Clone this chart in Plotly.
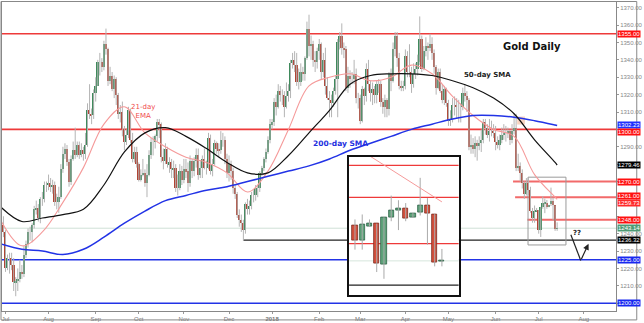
import pandas as pd
import plotly.graph_objects as go

# ---------------- data ----------------
dates = pd.bdate_range("2017-06-29", "2018-07-13")

open_ = [
    1248, 1245,
    1241, 1220, 1226, 1226, 1222, 1212, 1213, 1214, 1218, 1217, 1228, 1234, 1241, 1241, 1245, 1254, 1255, 1249, 1260, 1260, 1268,
    1268, 1269, 1267, 1268, 1258, 1258, 1261, 1277, 1286, 1289, 1281, 1270, 1283, 1288, 1285, 1291, 1285, 1288, 1286, 1291, 1311, 1309, 1308,
    1321, 1325, 1339, 1339, 1336, 1349, 1346, 1328, 1331, 1323, 1329, 1320, 1309, 1310, 1300, 1293, 1297, 1311, 1294, 1283, 1287,
    1280, 1271, 1274, 1275, 1269, 1274, 1285, 1293, 1293, 1296, 1304, 1303, 1284, 1282, 1289, 1280, 1281, 1277, 1278, 1266, 1266, 1276,
    1271, 1277, 1276, 1269, 1282, 1276, 1282, 1285, 1274, 1278, 1283, 1278, 1278, 1295, 1276, 1280, 1292, 1289, 1288, 1294, 1294, 1283,
    1275, 1280, 1276, 1266, 1263, 1251, 1248, 1246, 1242, 1257, 1254, 1256, 1262, 1262, 1266, 1266, 1275, 1278, 1283, 1287, 1294,
    1303, 1304, 1316, 1313, 1322, 1320, 1320, 1313, 1319, 1322, 1338, 1340, 1337, 1327, 1327, 1333, 1332, 1341, 1358, 1348, 1349, 1340, 1339,
    1345, 1349, 1333, 1340, 1325, 1318, 1317, 1315, 1322, 1329, 1350, 1354, 1347, 1346, 1324, 1331, 1329, 1329, 1332, 1318,
    1318, 1305, 1323, 1319, 1335, 1326, 1321, 1323, 1320, 1326, 1326, 1316, 1313, 1317, 1312, 1332, 1328, 1346, 1354, 1341, 1325, 1324,
    1325, 1342, 1333, 1333, 1326, 1332, 1335, 1339, 1352, 1335, 1345, 1348, 1347, 1349, 1344, 1336, 1324, 1333, 1322, 1317, 1323,
    1315, 1305, 1306, 1314, 1314, 1313, 1313, 1313, 1321, 1319, 1317, 1290, 1291, 1289, 1292, 1291, 1292, 1294, 1304, 1301, 1297, 1299, 1299,
    1298, 1293, 1291, 1294, 1297, 1298, 1298, 1299, 1294, 1299, 1301, 1278, 1279, 1275, 1269, 1263, 1269, 1265, 1253.1, 1248.8, 1252.8,
    1253.6, 1242.1, 1255.4, 1257.4, 1257.8, 1255.4, 1256.8, 1258.8, 1256.3, 1242.9,
]
high = [
    1252, 1250,
    1242, 1228, 1229, 1229, 1226, 1215, 1220, 1225, 1222, 1233, 1236, 1243, 1244, 1246, 1256, 1259, 1257, 1261, 1264, 1270, 1270,
    1274, 1272, 1271, 1270, 1263, 1267, 1280, 1290, 1292, 1291, 1283, 1285, 1293, 1301, 1293, 1293, 1292, 1290, 1298, 1315, 1326, 1312, 1323,
    1330, 1340, 1344, 1341, 1351, 1358, 1347, 1336, 1333, 1331, 1330, 1321, 1314, 1316, 1302, 1300, 1313, 1312, 1298, 1290, 1290,
    1281, 1277, 1283, 1277, 1280, 1288, 1295, 1296, 1297, 1306, 1306, 1304, 1289, 1292, 1290, 1284, 1283, 1282, 1280, 1274, 1280, 1279,
    1283, 1283, 1281, 1285, 1283, 1284, 1289, 1289, 1282, 1285, 1289, 1282, 1298, 1297, 1283, 1294, 1293, 1292, 1299, 1298, 1296, 1286,
    1285, 1282, 1278, 1268, 1264, 1254, 1251, 1248, 1258, 1260, 1259, 1264, 1265, 1268, 1268, 1276, 1279, 1284, 1289, 1296, 1306,
    1306, 1318, 1320, 1326, 1325, 1323, 1322, 1327, 1326, 1340, 1344, 1345, 1344, 1335, 1338, 1336, 1342, 1362, 1366, 1354, 1351, 1345, 1347,
    1352, 1350, 1344, 1347, 1330, 1322, 1320, 1324, 1331, 1352, 1356, 1361, 1350, 1348, 1336, 1334, 1333, 1340, 1335, 1321,
    1320, 1325, 1324, 1338, 1340, 1328, 1327, 1325, 1328, 1329, 1328, 1318, 1320, 1318, 1333, 1335, 1350, 1356, 1356, 1344, 1328, 1328,
    1346, 1345, 1349, 1336, 1338, 1338, 1343, 1365, 1354, 1348, 1353, 1350, 1355, 1353, 1346, 1337, 1335, 1335, 1326, 1325, 1324,
    1317, 1311, 1318, 1319, 1318, 1317, 1315, 1324, 1326, 1322, 1318, 1297, 1295, 1296, 1294, 1296, 1300, 1306, 1306, 1303, 1306, 1305, 1303,
    1302, 1296, 1297, 1301, 1303, 1302, 1301, 1300, 1303, 1309, 1309, 1286, 1281, 1277, 1270, 1272, 1272, 1267, 1254.8, 1256.2, 1254.8,
    1253.6, 1255.4, 1261.5, 1260.2, 1259.4, 1256.6, 1266.5, 1260.8, 1256.3, 1246.5,
]
low = [
    1243, 1238,
    1218, 1219, 1217, 1219, 1207, 1204, 1207, 1212, 1214, 1215, 1226, 1232, 1236, 1235, 1243, 1251, 1247, 1246, 1256, 1258, 1264,
    1265, 1264, 1263, 1256, 1254, 1252, 1260, 1275, 1283, 1279, 1267, 1268, 1282, 1283, 1284, 1283, 1284, 1282, 1283, 1290, 1306, 1303, 1306,
    1316, 1325, 1331, 1333, 1334, 1343, 1325, 1326, 1322, 1318, 1314, 1306, 1304, 1296, 1288, 1291, 1295, 1292, 1281, 1281, 1278,
    1270, 1270, 1273, 1267, 1261, 1273, 1283, 1285, 1289, 1293, 1295, 1281, 1277, 1280, 1278, 1275, 1272, 1272, 1264, 1262, 1265, 1268,
    1269, 1272, 1264, 1267, 1272, 1273, 1278, 1271, 1272, 1272, 1277, 1274, 1277, 1274, 1273, 1279, 1286, 1284, 1286, 1290, 1280, 1272,
    1270, 1271, 1263, 1260, 1249, 1244, 1241, 1236, 1240, 1251, 1251, 1254, 1258, 1259, 1261, 1264, 1273, 1276, 1281, 1286, 1292,
    1300, 1302, 1308, 1312, 1316, 1314, 1307, 1312, 1316, 1318, 1335, 1333, 1325, 1323, 1325, 1328, 1328, 1340, 1342, 1340, 1336, 1333, 1335,
    1340, 1329, 1330, 1320, 1317, 1307, 1307, 1313, 1320, 1307, 1346, 1343, 1341, 1322, 1321, 1324, 1326, 1326, 1315, 1312,
    1303, 1304, 1314, 1316, 1322, 1316, 1314, 1315, 1315, 1321, 1313, 1309, 1307, 1307, 1308, 1322, 1327, 1342, 1336, 1323, 1322, 1322,
    1323, 1330, 1330, 1321, 1324, 1329, 1331, 1337, 1333, 1334, 1342, 1340, 1345, 1340, 1332, 1320, 1323, 1321, 1315, 1314, 1313,
    1302, 1302, 1304, 1308, 1306, 1304, 1304, 1311, 1316, 1310, 1288, 1286, 1286, 1284, 1282, 1288, 1287, 1292, 1297, 1295, 1293, 1296, 1295,
    1288, 1289, 1288, 1292, 1294, 1293, 1295, 1291, 1292, 1297, 1276, 1276, 1270, 1266, 1260, 1262, 1262, 1252, 1246.3, 1246.3, 1252.8,
    1240.0, 1238.1, 1254.3, 1251.8, 1254.3, 1255.2, 1255.9, 1247.7, 1241.6, 1241.6,
]
close = [
    1245, 1241,
    1220, 1226, 1226, 1222, 1212, 1213, 1214, 1218, 1217, 1228, 1234, 1241, 1241, 1245, 1254, 1255, 1249, 1260, 1260, 1268, 1268,
    1269, 1267, 1268, 1258, 1258, 1261, 1277, 1286, 1289, 1281, 1270, 1283, 1288, 1285, 1291, 1285, 1288, 1286, 1291, 1311, 1309, 1308, 1321,
    1325, 1339, 1339, 1336, 1349, 1346, 1328, 1331, 1323, 1329, 1320, 1309, 1310, 1300, 1293, 1297, 1311, 1294, 1283, 1287, 1280,
    1271, 1274, 1275, 1269, 1274, 1285, 1293, 1293, 1296, 1304, 1303, 1284, 1282, 1289, 1280, 1281, 1277, 1278, 1266, 1266, 1276, 1271,
    1277, 1276, 1269, 1282, 1276, 1282, 1285, 1274, 1278, 1283, 1278, 1278, 1295, 1276, 1280, 1292, 1289, 1288, 1294, 1294, 1283, 1275,
    1280, 1276, 1266, 1263, 1251, 1248, 1246, 1242, 1257, 1254, 1256, 1262, 1262, 1266, 1266, 1275, 1278, 1283, 1287, 1294, 1303,
    1304, 1316, 1313, 1322, 1320, 1320, 1313, 1319, 1322, 1338, 1340, 1337, 1327, 1327, 1333, 1332, 1341, 1358, 1348, 1349, 1340, 1339, 1345,
    1349, 1333, 1340, 1325, 1318, 1317, 1315, 1322, 1329, 1350, 1354, 1347, 1346, 1324, 1331, 1329, 1329, 1332, 1318, 1318,
    1305, 1323, 1319, 1335, 1326, 1321, 1323, 1320, 1326, 1326, 1316, 1313, 1317, 1312, 1332, 1328, 1346, 1354, 1341, 1325, 1324, 1325,
    1342, 1333, 1333, 1326, 1332, 1335, 1339, 1352, 1335, 1345, 1348, 1347, 1349, 1344, 1336, 1324, 1333, 1322, 1317, 1323, 1315,
    1305, 1306, 1314, 1314, 1313, 1313, 1313, 1321, 1319, 1317, 1290, 1291, 1289, 1292, 1291, 1292, 1294, 1304, 1301, 1297, 1299, 1299, 1298,
    1293, 1291, 1294, 1297, 1298, 1298, 1299, 1294, 1299, 1301, 1278, 1279, 1275, 1269, 1263, 1269, 1265, 1253, 1248.8, 1253.3, 1253.6,
    1242.3, 1255.4, 1257.4, 1257.8, 1255.2, 1256.6, 1258.8, 1256.4, 1242.8, 1243.14,
]

# indicator lines, sampled every 10th session and at the last session
ema21 = [1247, 1233, 1241, 1258, 1278, 1303, 1313, 1298, 1290, 1284, 1281, 1275, 1264, 1276, 1300,
         1325, 1330, 1332, 1328, 1330, 1337, 1332, 1319, 1308, 1300, 1296, 1274, 1261, 1259.73]
sma50 = [1255, 1247, 1249, 1251, 1254, 1268, 1287, 1298, 1301, 1296, 1289, 1281, 1275, 1275, 1285,
         1298, 1311, 1326, 1331, 1332, 1332, 1331, 1328, 1324, 1318, 1309, 1294, 1281, 1279.46]
sma200 = [1234, 1231, 1230, 1228, 1231, 1238, 1246, 1253, 1259, 1262, 1265, 1267, 1270, 1273, 1276,
          1279, 1283, 1288, 1292, 1296, 1300, 1303, 1306, 1308, 1308, 1307, 1305, 1302.5, 1302.23]

month_labels = ["Jul", "Aug", "Sep", "Oct", "Nov", "Dec", "<b>2018</b>", "Feb", "Mar", "Apr",
                "May", "Jun", "Jul", "Aug"]
y_ticks = list(range(1200, 1371, 10))
y_ticks_hidden = [1200, 1250, 1260, 1270, 1280, 1300]   # covered by price tags

levels_red_full = [1355.0, 1300.0]
levels_red_short = [1270.0, 1261.0, 1248.0]
levels_red_start = ["2018-06-14", "2018-06-15", "2018-06-25"]
levels_blue = [1225.0, 1200.0]
last_price = 1243.14
support_black = 1236.32

tags = [  # value, colour, yshift
    (1355.00, "#ff1010", 0), (1302.23, "#2030ff", 1), (1300.00, "#ff1010", -3),
    (1279.46, "#000000", 0), (1270.00, "#ff1010", 0), (1261.00, "#ff1010", 1),
    (1259.73, "#ff2a2a", -4), (1248.00, "#ff1010", 0), (1243.14, "#4f9a74", 0),
    (1236.32, "#000000", 0), (1225.00, "#1828f0", 0), (1200.00, "#1828f0", 0),
]

# ---------------- build ----------------
n = len(dates)
last = n - 1
xi = list(range(n))
ma_x = list(range(0, n, 10)) + [last]
date_list = list(dates)

future = pd.bdate_range(dates[-1] + pd.Timedelta(days=1), "2018-08-10")
all_dates = date_list + list(future)
tickvals, seen = [], set()
for i, d in enumerate(all_dates):
    key = (d.year, d.month)
    if key not in seen:
        seen.add(key)
        if not (d.year == 2017 and d.month == 6):
            tickvals.append(i)

XR = [0.3, 299.7]
YR = [1195.5, 1373.3]
inset_first = n - 13
X2R = [inset_first - 0.82, last + 2.33]
Y2R = [1233.5, 1272.5]

up = [c >= o for o, c in zip(open_, close)]
body_base = [min(o, c) for o, c in zip(open_, close)]
body_h = [abs(c - o) for o, c in zip(open_, close)]

fig = go.Figure()

# main chart wicks + bodies
fig.add_trace(go.Ohlc(x=xi, open=open_, high=high, low=low, close=close, tickwidth=0,
                      increasing_line_color="#b4b4b4", decreasing_line_color="#b4b4b4",
                      line_width=1, showlegend=False, hoverinfo="skip"))
fig.add_trace(go.Bar(x=xi, y=body_h, base=body_base, width=0.8,
                     marker_color=["#3f8a5c" if u else "#b04434" for u in up],
                     marker_line_width=0, showlegend=False, hoverinfo="skip"))
fig.add_trace(go.Scatter(x=ma_x, y=ema21, mode="lines", line=dict(color="#f59a9a", width=1.1),
                         line_shape="spline", showlegend=False, hoverinfo="skip"))
fig.add_trace(go.Scatter(x=ma_x, y=sma200, mode="lines", line=dict(color="#2233e6", width=1.5),
                         line_shape="spline", showlegend=False, hoverinfo="skip"))
fig.add_trace(go.Scatter(x=ma_x, y=sma50, mode="lines", line=dict(color="#111111", width=1.2),
                         line_shape="spline", showlegend=False, hoverinfo="skip"))

# inset (magnified last 13 sessions)
ix = xi[inset_first:]
io, ih, il, ic = open_[inset_first:], high[inset_first:], low[inset_first:], close[inset_first:]
fig.add_trace(go.Scatter(x=ma_x[-3:], y=ema21[-3:], mode="lines",
                         line=dict(color="#f59a9a", width=1), xaxis="x2", yaxis="y2",
                         showlegend=False, hoverinfo="skip"))
fig.add_trace(go.Ohlc(x=ix, open=io, high=ih, low=il, close=ic, tickwidth=0,
                      increasing_line_color="#aaaaaa", decreasing_line_color="#aaaaaa",
                      line_width=1, xaxis="x2", yaxis="y2", showlegend=False, hoverinfo="skip"))
fig.add_trace(go.Bar(x=ix, y=body_h[inset_first:], base=body_base[inset_first:], width=0.72,
                     marker_color=["#5fa47b" if u else "#d4503d" for u in up[inset_first:]],
                     marker_line_color=["#2f6148" if u else "#7b2c21" for u in up[inset_first:]],
                     marker_line_width=0.8, xaxis="x2", yaxis="y2",
                     showlegend=False, hoverinfo="skip"))

shapes = []
for v in levels_red_full:
    shapes.append(dict(type="line", xref="x", yref="y", x0=XR[0], x1=XR[1], y0=v, y1=v,
                       line=dict(color="#ee3a3a", width=1.6), layer="below"))
for v, start in zip(levels_red_short, levels_red_start):
    s = date_list.index(pd.Timestamp(start)) - 0.5
    shapes.append(dict(type="line", xref="x", yref="y", x0=s, x1=XR[1], y0=v, y1=v,
                       line=dict(color="#f26a6a", width=2), layer="below"))
for v in levels_blue:
    shapes.append(dict(type="line", xref="x", yref="y", x0=XR[0], x1=XR[1], y0=v, y1=v,
                       line=dict(color="#2233e6", width=1.5), layer="below"))
shapes.append(dict(type="line", xref="x", yref="y", x0=XR[0], x1=XR[1], y0=last_price, y1=last_price,
                   line=dict(color="#cfe0d6", width=1), layer="below"))
dec_low = low.index(min(low[100:140]), 100)
shapes.append(dict(type="line", xref="x", yref="y", x0=dec_low, x1=XR[1], y0=support_black,
                   y1=support_black, line=dict(color="#222222", width=1.2), layer="below"))
# grey zoom box
shapes.append(dict(type="rect", xref="x", yref="y", x0=inset_first - 2.2, x1=last + 4.3,
                   y0=Y2R[0], y1=Y2R[1], line=dict(color="#9a9a9a", width=1), layer="below"))
# peach highlight at the 50/200 cross
shapes.append(dict(type="rect", xref="x", yref="y", x0=last - 19.5, x1=last - 15.7,
                   y0=1302.8, y1=1307.4, line=dict(width=0),
                   fillcolor="rgba(240,175,140,0.55)", layer="below"))
# arrow first leg
shapes.append(dict(type="line", xref="x", yref="y", x0=last + 6.7, y0=1239.4, x1=last + 11.5,
                   y1=1224.6, line=dict(color="#222222", width=1.2)))

# inset background and levels
shapes.append(dict(type="rect", xref="x2", yref="y2", x0=X2R[0], x1=X2R[1], y0=Y2R[0], y1=Y2R[1],
                   fillcolor="white", line=dict(width=0), layer="below"))
for v in levels_red_short:
    shapes.append(dict(type="line", xref="x2", yref="y2", x0=X2R[0], x1=X2R[1], y0=v, y1=v,
                       line=dict(color="#ee3a3a", width=1.2), layer="below"))
shapes.append(dict(type="line", xref="x2", yref="y2", x0=X2R[0], x1=X2R[1], y0=last_price,
                   y1=last_price, line=dict(color="#d6e6dc", width=1), layer="below"))
shapes.append(dict(type="line", xref="x2", yref="y2", x0=X2R[0], x1=X2R[1], y0=support_black,
                   y1=support_black, line=dict(color="#222222", width=1.2), layer="below"))

# outer frame
shapes.append(dict(type="rect", xref="paper", yref="paper", x0=-1 / 621, x1=1 + 21 / 621,
                   y0=-9 / 312, y1=1 + 0.5 / 312, line=dict(color="#888888", width=1)))

annotations = []
for v, col, ys in tags:
    annotations.append(dict(xref="paper", yref="y", x=1.0, y=v, xanchor="left", yanchor="middle",
                            text=f"{v:.2f}", showarrow=False, bgcolor=col, borderpad=0,
                            font=dict(color="white", size=6, family="Liberation Sans, Arial"),
                            xshift=1, yshift=ys))
annotations += [
    dict(xref="paper", yref="paper", x=0.863, y=0.856, xanchor="center", yanchor="middle",
         text="<b>Gold Daily</b>", showarrow=False,
         font=dict(size=10, color="#111111", family="DejaVu Sans")),
    dict(xref="paper", yref="paper", x=0.791, y=0.765, xanchor="center", yanchor="middle",
         text="<b>50-day SMA</b>", showarrow=False,
         font=dict(size=7, color="#222222", family="DejaVu Sans")),
    dict(xref="paper", yref="paper", x=0.552, y=0.542, xanchor="center", yanchor="middle",
         text="<b>200-day SMA</b>", showarrow=False,
         font=dict(size=7.5, color="#1e2fe0", family="DejaVu Sans")),
    dict(xref="paper", yref="paper", x=0.230, y=0.647, xanchor="center", yanchor="middle",
         text="21-day<br>EMA", showarrow=False,
         font=dict(size=7, color="#f04a4a", family="DejaVu Sans")),
    dict(xref="x", yref="y", x=last + 9.6, y=1240.5, xanchor="center", yanchor="middle",
         text="<b>??</b>", showarrow=False,
         font=dict(size=7, color="#222222", family="DejaVu Sans")),
    dict(xref="x", yref="y", axref="x", ayref="y", x=last + 15.3, y=1234.2, ax=last + 11.5,
         ay=1224.6, text="", showarrow=True, arrowhead=2, arrowsize=1, arrowwidth=1.2,
         arrowcolor="#222222"),
]

fig.update_layout(
    width=644, height=323, margin=dict(l=1, r=22, t=1, b=10),
    paper_bgcolor="white", plot_bgcolor="white", bargap=0, barmode="overlay",
    shapes=shapes, annotations=annotations, showlegend=False,
    xaxis=dict(range=XR, tickvals=tickvals, ticktext=month_labels, showgrid=False, zeroline=False,
               showline=True, linecolor="#888888", linewidth=1, mirror=True, ticks="outside",
               ticklen=2, tickcolor="#999999", tickfont=dict(size=6, color="#777777",
                                                              family="Liberation Sans, Arial"),
               rangeslider=dict(visible=False), fixedrange=True),
    yaxis=dict(range=YR, side="right", tickvals=y_ticks,
               ticktext=["" if t in y_ticks_hidden else f"{t:.2f}" for t in y_ticks],
               showgrid=False, zeroline=False, showline=True, linecolor="#888888", mirror=True,
               ticks="outside", ticklen=2, tickcolor="#999999",
               tickfont=dict(size=6, color="#888888", family="Liberation Sans, Arial")),
    xaxis2=dict(domain=[(352 - 1) / 621, (463 - 1) / 621], anchor="y2", range=X2R,
                showticklabels=False, showgrid=False, zeroline=False, showline=True,
                linecolor="#111111", linewidth=1.5, mirror=True, ticks="",
                rangeslider=dict(visible=False)),
    yaxis2=dict(domain=[(313 - 297) / 312, (313 - 157) / 312], anchor="x2", range=Y2R,
                showticklabels=False, showgrid=False, zeroline=False, showline=True,
                linecolor="#111111", linewidth=1.5, mirror=True, ticks=""),
)

fig.write_html("out.html")
